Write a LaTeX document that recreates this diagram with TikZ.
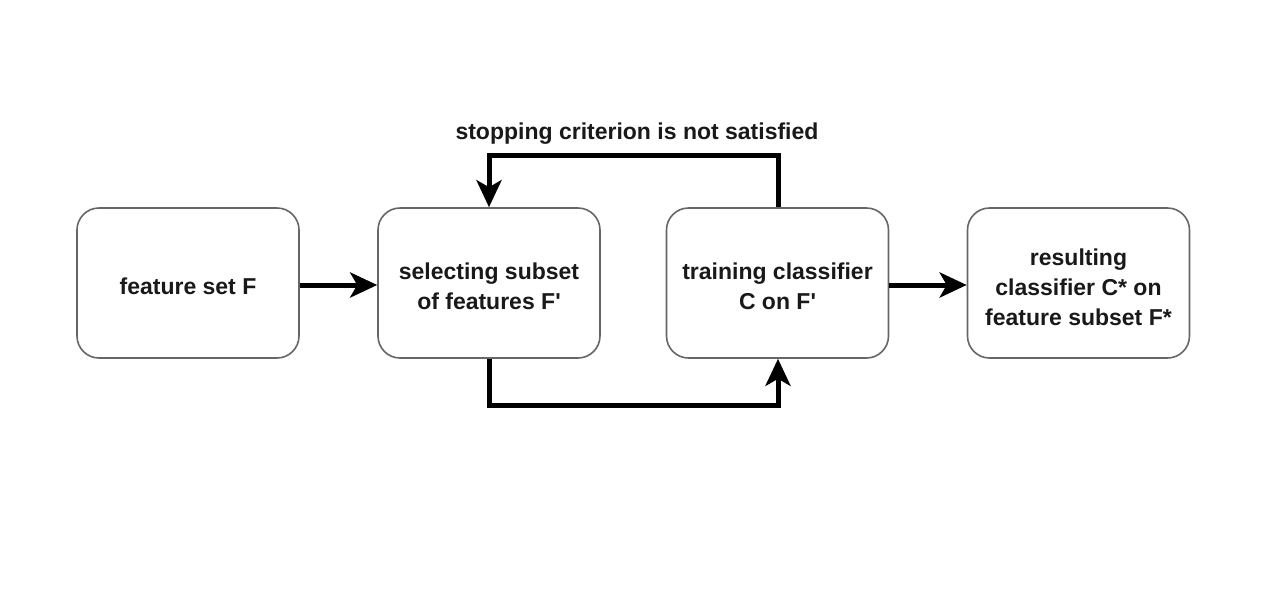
\documentclass[tikz,border=0pt]{standalone}
\usepackage{fontspec}
\setmainfont{Liberation Sans}
\usetikzlibrary{arrows.meta}
\newcommand{\ap}{\textquotesingle}
\begin{document}
\begin{tikzpicture}[x=1pt,y=-1pt,
  procbox/.style={draw=black!60, line width=1.6pt, rounded corners=22pt, minimum width=222pt, minimum height=150pt, inner sep=0pt},
  txt/.style={align=center, font=\fontsize{23}{30}\selectfont\bfseries, text=black!90, inner sep=0pt},
  flow/.style={line width=5pt, -{Stealth[length=27pt,width=25pt,inset=7pt]}},
  lbl/.style={font=\fontsize{23}{30}\selectfont\bfseries, text=black!90}]
\useasboundingbox[fill=white] (0,0) rectangle (1280,590);
\node[procbox] (a) at (188,283) {};
\node[procbox] (b) at (489,283) {};
\node[procbox] (c) at (777.5,283) {};
\node[procbox] (d) at (1078.5,283) {};
\node[txt] (at) at (188,286) {feature set F};
\node[txt] (bt) at (489,286) {selecting subset\\of features F\ap};
\node[txt] (ct) at (777.5,286) {training classifier\\C on F\ap};
\node[txt] (dt) at (1078.5,287) {resulting\\classifier C* on\\feature subset F*};
\coordinate (tl) at (489,155);
\coordinate (tr) at (778,155);
\coordinate (bl) at (489,405);
\coordinate (br) at (778,405);
\node[lbl] (s) at (637,134) {stopping criterion is not satisfied};
\draw[flow] (a.east |- 0,285) -- (b.west |- 0,285);
\draw[flow] (c.east |- 0,285) -- (d.west |- 0,285);
\draw[flow] (c.north -| tr) -- (tr) -- (tl) -- (b.north -| tl);
\draw[flow] (b.south -| bl) -- (bl) -- (br) -- (c.south -| br);
\end{tikzpicture}
\end{document}
